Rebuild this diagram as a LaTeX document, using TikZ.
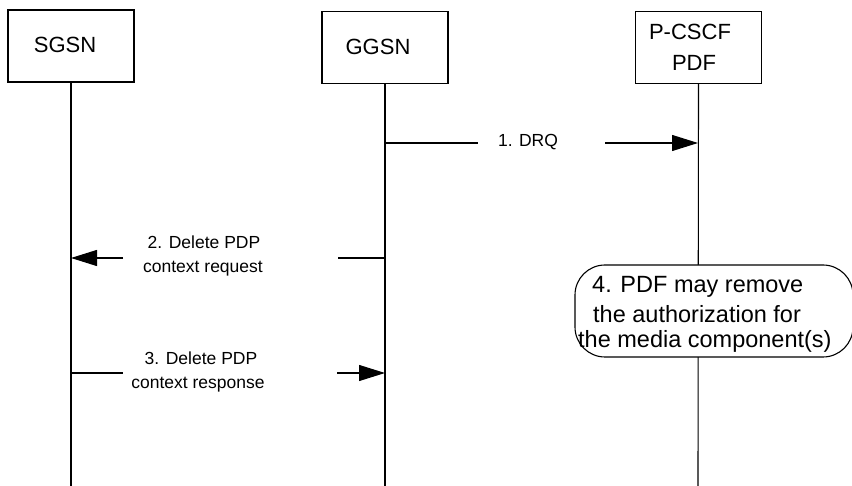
\documentclass[tikz,border=0pt]{standalone}
\usepackage{fontspec}
\setmainfont{Liberation Sans}
\usetikzlibrary{arrows.meta}
\begin{document}
\begin{tikzpicture}[x=1pt,y=-1pt,
  entity/.style={draw,line width=1.2pt,minimum width=126pt,minimum height=72pt,inner sep=0pt,fill=white},
  life/.style={line width=1.1pt},
  msg/.style={line width=1.1pt},
  tip/.style={-{Triangle[length=26pt,width=16pt]}},
  hdr/.style={font=\fontsize{22}{26}\selectfont,inner sep=0pt},
  mtxt/.style={font=\fontsize{17.5}{21}\selectfont,inner sep=0pt},
  btxt/.style={font=\fontsize{23.5}{27}\selectfont,inner sep=0pt,anchor=west},
  note/.style={draw,line width=1.1pt,rounded corners=30pt,fill=white,minimum width=278pt,minimum height=92pt,inner sep=0pt}]
\useasboundingbox (0,0) rectangle (852,486);
\fill[white] (0,0) rectangle (852,486);
% entity boxes
\node[entity] (sgsn) at (71,46) {};
\node[entity] (ggsn) at (385,47.5) {};
\node[entity] (pcscf) at (698.5,47.5) {};
\node[hdr] (sgsnt) at (65,45) {SGSN};
\node[hdr] (ggsnt) at (378,47) {GGSN};
\node[hdr] (pcscft) at (690,32) {P-CSCF};
\node[hdr] (pdft) at (694,63) {PDF};
% lifeline ends
\coordinate (sgend) at (71,486);
\coordinate (ggend) at (385,486);
\coordinate (pcend) at (698,486);
\draw[life] (sgsn.south) -- (sgend);
\draw[life] (ggsn.south) -- (ggend);
\draw[life] (pcscf.south) -- (pcend);
% message 1
\coordinate (m1a) at (385,143);
\coordinate (m1b) at (478,143);
\coordinate (m1c) at (605,143);
\coordinate (m1d) at (698,143);
\draw[msg] (m1a) -- (m1b);
\draw[msg,tip] (m1c) -- (m1d);
\node[mtxt] (m1t) at (528,142) {1. DRQ};
% message 2
\coordinate (m2a) at (385,258);
\coordinate (m2b) at (338,258);
\coordinate (m2c) at (123,258);
\coordinate (m2d) at (71,258);
\draw[msg] (m2a) -- (m2b);
\draw[msg,tip] (m2c) -- (m2d);
\node[mtxt] (m2t1) at (204,242) {2. Delete PDP};
\node[mtxt] (m2t2) at (203,269) {context request};
% message 3
\coordinate (m3a) at (71,373);
\coordinate (m3b) at (123,373);
\coordinate (m3c) at (337,373);
\coordinate (m3d) at (385,373);
\draw[msg] (m3a) -- (m3b);
\draw[msg,tip] (m3c) -- (m3d);
\node[mtxt] (m3t1) at (201,358) {3. Delete PDP};
\node[mtxt] (m3t2) at (198,385) {context response};
% note 4
\node[note] (n4) at (714,311) {};
\node[btxt] (n4a) at (592,287) {4. PDF may remove};
\node[btxt] (n4b) at (593,314) {the authorization for};
\node[btxt] (n4c) at (578,341) {the media component(s)};
\end{tikzpicture}
\end{document}
